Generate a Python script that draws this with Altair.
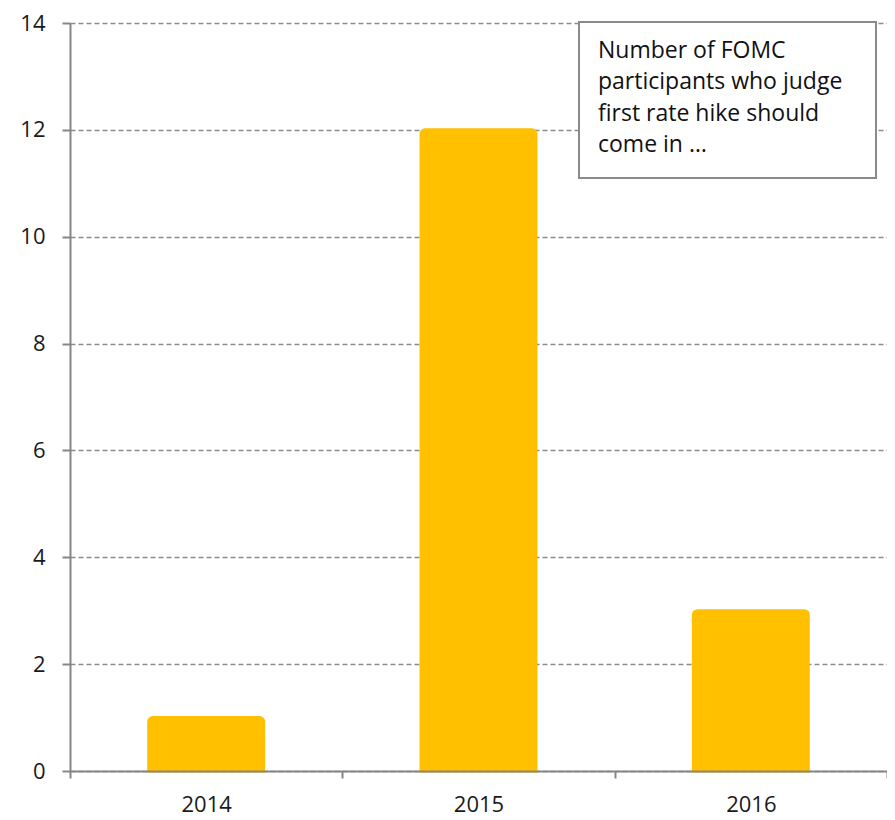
import altair as alt
import pandas as pd

years = ["2014", "2015", "2016"]
counts = [1, 12, 3]
y_ticks = [0, 2, 4, 6, 8, 10, 12, 14]
note_lines = ["Number of FOMC", "participants who judge", "first rate hike should", "come in …"]

df = pd.DataFrame({"year": years, "count": counts})
FONT = "Open Sans"
AXIS_GRAY = "#868686"
LABEL_COLOR = "#1a1a1a"

bars = alt.Chart(df).mark_bar(
    color="#FFC000", stroke="#FFC000", strokeWidth=3,
    cornerRadiusTopLeft=4, cornerRadiusTopRight=4,
    width=alt.RelativeBandSize(0.422),
).encode(
    x=alt.X("year:N", sort=years,
            scale=alt.Scale(paddingInner=0, paddingOuter=0),
            axis=alt.Axis(title=None, labelAngle=0, tickBand="extent", grid=False,
                          domainColor=AXIS_GRAY, tickColor=AXIS_GRAY, domainWidth=2, tickWidth=2,
                          tickSize=7, labelFontSize=22, labelFont=FONT, labelColor=LABEL_COLOR,
                          labelPadding=16, zindex=1)),
    y=alt.Y("count:Q", scale=alt.Scale(domain=[0, 14]),
            axis=alt.Axis(title=None, values=y_ticks, grid=True, gridDash=[5, 3],
                          gridColor="#8c8c8c", gridWidth=1.5,
                          domainColor=AXIS_GRAY, tickColor=AXIS_GRAY, domainWidth=2, tickWidth=2,
                          tickSize=8, labelFontSize=22, labelFont=FONT, labelColor=LABEL_COLOR,
                          labelPadding=17, zindex=0)),
)

anchor = alt.Chart(pd.DataFrame({"a": [0]}))
box = anchor.mark_rect(fill="white", stroke="#8a8a8a", strokeWidth=2).encode(
    x=alt.value(509), x2=alt.value(806), y=alt.value(-1), y2=alt.value(155)
)
note = anchor.mark_text(align="left", baseline="alphabetic", lineHeight=31.5,
                        fontSize=23, font=FONT, color="#111111", text=note_lines).encode(
    x=alt.value(528), y=alt.value(34.5)
)

chart = alt.layer(bars, box, note).properties(
    width=817, height=748,
    padding={"left": 62, "top": 15, "right": 0, "bottom": 48},
    autosize=alt.AutoSizeParams(type="none"),
).configure_view(stroke=None)

chart.save("out.html", embed_options={"renderer": "svg", "actions": False})
